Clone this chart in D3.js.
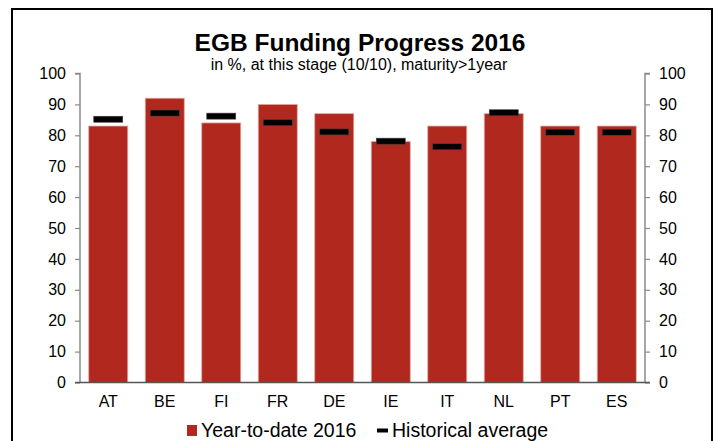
<!DOCTYPE html>
<html>
<head>
<meta charset="utf-8">
<script src="https://cdn.jsdelivr.net/npm/d3@7"></script>
<style>
  body { margin: 0; background: #fff; }
  svg text { font-family: "Liberation Sans", Arial, sans-serif; }
</style>
</head>
<body>
<div id="chart"></div>
<script>
// data
const countries = ["AT", "BE", "FI", "FR", "DE", "IE", "IT", "NL", "PT", "ES"];
const ytd2016 = [83, 92, 84, 90, 87, 78, 83, 87, 83, 83];
const histAvg = [85.2, 87.2, 86.2, 84.1, 81.1, 78.1, 76.3, 87.3, 81, 81];
const yTicks = [0, 10, 20, 30, 40, 50, 60, 70, 80, 90, 100];

function draw() {
    const svgwidth = 719;
    const svgheight = 441;
    const margin = {top: 73.5, bottom: 58.5, left: 80, right: 74};
    const bar_color = "#b0281e";
    const axis_color = "#8a8a8a";
    const tick_size = 16;

    let rows = countries.map((c, i) => ({country: c, ytd: ytd2016[i], hist: histAvg[i]}));

    let xScale = d3.scaleBand()
        .domain(countries)
        .range([margin.left, svgwidth - margin.right])
        .paddingInner(0.31)
        .paddingOuter(0.155);
    let yScale = d3.scaleLinear()
        .domain([0, 100])
        .range([svgheight - margin.bottom, margin.top]);

    let svg = d3.select("#chart").append("svg")
        .attr("width", svgwidth)
        .attr("height", svgheight);

    // outer frame (runs off the bottom like the original)
    svg.append("rect")
        .attr("x", 12).attr("y", 9)
        .attr("width", 700).attr("height", 460)
        .style("fill", "none")
        .style("stroke", "#000")
        .style("stroke-width", 2);

    // titles
    svg.append("text")
        .text("EGB Funding Progress 2016")
        .attr("x", 360).attr("y", 51)
        .attr("text-anchor", "middle")
        .style("font-weight", "bold")
        .style("font-size", 24.5);
    svg.append("text")
        .text("in %, at this stage (10/10), maturity>1year")
        .attr("x", 359).attr("y", 70)
        .attr("text-anchor", "middle")
        .style("font-size", 16);

    // bars
    svg.append("g").attr("class", "bars")
        .selectAll("rect")
        .data(rows)
        .enter().append("rect")
        .attr("x", d => xScale(d.country))
        .attr("y", d => yScale(d.ytd))
        .attr("width", xScale.bandwidth())
        .attr("height", d => yScale(0) - yScale(d.ytd))
        .style("fill", bar_color)
        .style("stroke", "#e3a8a2")
        .style("stroke-width", 0.8);

    // historical average markers
    const mark_w = 29, mark_h = 6;
    svg.append("g").attr("class", "markers")
        .selectAll("rect")
        .data(rows)
        .enter().append("rect")
        .attr("x", d => xScale(d.country) + xScale.bandwidth() / 2 - mark_w / 2)
        .attr("y", d => yScale(d.hist) - mark_h / 2)
        .attr("width", mark_w)
        .attr("height", mark_h)
        .style("fill", "#000")
        .style("stroke", "#444")
        .style("stroke-width", 0.6);

    // y axes (left and right)
    let yLeft = d3.axisLeft(yScale).tickValues(yTicks).tickSize(5).tickPadding(9);
    let yRight = d3.axisRight(yScale).tickValues(yTicks).tickSize(5).tickPadding(9);
    [[yLeft, margin.left], [yRight, svgwidth - margin.right]].forEach(([ax, xpos]) => {
        let g = svg.append("g")
            .attr("transform", `translate(${xpos},0)`)
            .call(ax);
        g.select(".domain").attr("stroke", axis_color).attr("stroke-width", 1.5)
            .attr("d", `M${ax === yLeft ? -5 : 5},${yScale(100)}H0V${yScale(0)}`);
        g.selectAll(".tick line").attr("stroke", axis_color).attr("stroke-width", 1.2);
        g.selectAll("text")
            .style("font-size", tick_size)
            .style("font-family", "Liberation Sans, Arial, sans-serif")
            .attr("fill", "#000");
    });

    // x axis
    let xAxis = d3.axisBottom(xScale).tickSize(0).tickPadding(13);
    let gx = svg.append("g")
        .attr("transform", `translate(0,${yScale(0)})`)
        .call(xAxis);
    gx.select(".domain").attr("stroke", "#555").attr("stroke-width", 1.5)
        .attr("d", `M${margin.left - 5},0H${svgwidth - margin.right + 5}`);
    gx.selectAll("text")
        .style("font-size", tick_size)
        .style("font-family", "Liberation Sans, Arial, sans-serif")
        .attr("fill", "#000");

    // legend
    let legend = svg.append("g").attr("class", "legend");
    legend.append("rect")
        .attr("x", 187).attr("y", 425)
        .attr("width", 10).attr("height", 11)
        .style("fill", bar_color);
    legend.append("text")
        .text("Year-to-date 2016")
        .attr("x", 201).attr("y", 437)
        .style("font-size", 19.5);
    legend.append("rect")
        .attr("x", 377).attr("y", 428.5)
        .attr("width", 11).attr("height", 4)
        .style("fill", "#000");
    legend.append("text")
        .text("Historical average")
        .attr("x", 392).attr("y", 437)
        .style("font-size", 19.5);
}

draw();
</script>
</body>
</html>
